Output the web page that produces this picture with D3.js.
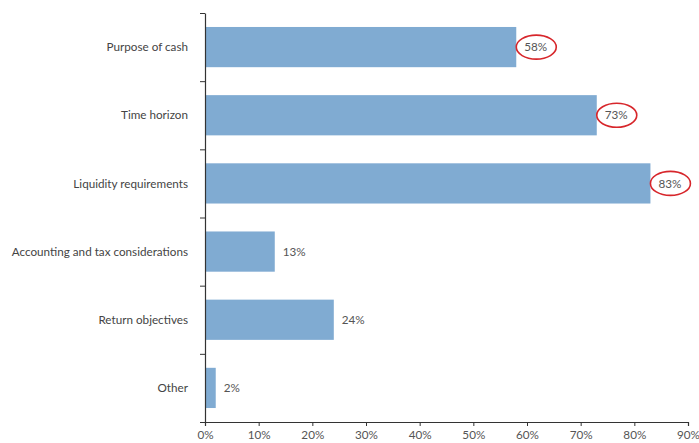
<!DOCTYPE html>
<html>
<head>
<meta charset="utf-8">
<script src="https://cdn.jsdelivr.net/npm/d3@7"></script>
<style>
  body { margin: 0; background: #fff; }
  text { font-family: Lato, "Liberation Sans", sans-serif; }
</style>
</head>
<body>
<div id="chart"></div>
<script>
// chart data
var categories = ["Purpose of cash", "Time horizon", "Liquidity requirements",
    "Accounting and tax considerations", "Return objectives", "Other"];
var values = [58, 73, 83, 13, 24, 2];
var highlighted = ["Purpose of cash", "Time horizon", "Liquidity requirements"];
var xTicks = [0, 10, 20, 30, 40, 50, 60, 70, 80, 90];

var svgWidth = 699;
var svgHeight = 443;

var margin = { top: 13, right: 11, bottom: 21, left: 205 };
var width = svgWidth - margin.left - margin.right;
var height = svgHeight - margin.top - margin.bottom;
var fontSize = 11.7;

var svg = d3.select("#chart")
    .append("svg")
    .attr("width", svgWidth)
    .attr("height", svgHeight);

var chartGroup = svg.append("g")
    .attr("transform", `translate(${margin.left}, ${margin.top})`);

var data = categories.map(function(c, i) {
    return { category: c, value: values[i] };
});

// scales
var xLinearScale = d3.scaleLinear()
    .domain([0, 90])
    .range([0, width]);

var yBandScale = d3.scaleBand()
    .domain(categories)
    .range([0, height])
    .paddingInner(0.41)
    .paddingOuter(0.205);

// bars
chartGroup.selectAll("rect.bar")
    .data(data)
    .enter()
    .append("rect")
    .attr("class", "bar")
    .attr("x", 0)
    .attr("y", d => yBandScale(d.category))
    .attr("width", d => xLinearScale(d.value))
    .attr("height", yBandScale.bandwidth())
    .attr("fill", "#80abd2");

// value labels
chartGroup.selectAll("text.value")
    .data(data)
    .enter()
    .append("text")
    .attr("class", "value")
    .attr("x", d => xLinearScale(d.value) + 8)
    .attr("y", d => yBandScale(d.category) + yBandScale.bandwidth() / 2)
    .attr("dy", "0.35em")
    .attr("font-size", fontSize)
    .attr("fill", "#555")
    .text(d => d.value + "%");

// red ellipses around highlighted labels
chartGroup.selectAll("ellipse.mark")
    .data(data.filter(d => highlighted.indexOf(d.category) >= 0))
    .enter()
    .append("ellipse")
    .attr("class", "mark")
    .attr("cx", d => xLinearScale(d.value) + 20)
    .attr("cy", d => yBandScale(d.category) + yBandScale.bandwidth() / 2)
    .attr("rx", 20)
    .attr("ry", 12)
    .attr("fill", "none")
    .attr("stroke", "#d7262b")
    .attr("stroke-width", 1.6);

// x axis
var bottomAxis = d3.axisBottom(xLinearScale)
    .tickValues(xTicks)
    .tickSize(4)
    .tickPadding(5)
    .tickFormat(d => d + "%");

var xAxis = chartGroup.append("g")
    .attr("transform", `translate(0, ${height})`)
    .call(bottomAxis);
xAxis.select(".domain").attr("stroke", "#333").attr("stroke-width", 1.2);
xAxis.selectAll(".tick line").attr("stroke", "#333");
xAxis.selectAll("text")
    .attr("font-size", fontSize)
    .attr("font-family", "Lato, sans-serif")
    .attr("fill", "#555");

// y axis: ticks at the category boundaries
var yBoundary = d3.scaleLinear()
    .domain([0, categories.length])
    .range([0, height]);

var leftAxis = d3.axisLeft(yBoundary)
    .tickValues(d3.range(categories.length + 1))
    .tickSize(5)
    .tickSizeOuter(0)
    .tickFormat("");

var yAxis = chartGroup.append("g").call(leftAxis);
yAxis.select(".domain").attr("stroke", "#333").attr("stroke-width", 1.2);
yAxis.selectAll(".tick line").attr("stroke", "#333");

// category labels
chartGroup.selectAll("text.cat")
    .data(categories)
    .enter()
    .append("text")
    .attr("class", "cat")
    .attr("x", -17)
    .attr("y", d => yBandScale(d) + yBandScale.bandwidth() / 2)
    .attr("dy", "0.35em")
    .attr("text-anchor", "end")
    .attr("font-size", fontSize)
    .attr("fill", "#444")
    .text(d => d);
</script>
</body>
</html>
